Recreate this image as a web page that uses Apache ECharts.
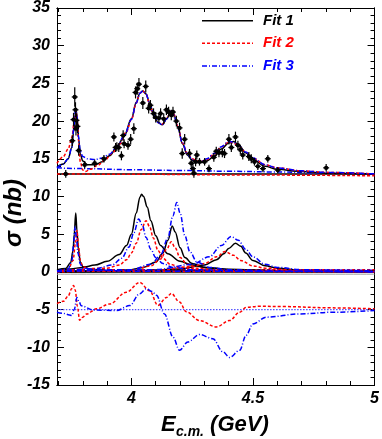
<!DOCTYPE html>
<html><head><meta charset="utf-8">
<script src="https://cdn.jsdelivr.net/npm/echarts@6/dist/echarts.min.js"></script>
<style>html,body{margin:0;padding:0;background:#fff}#c{width:382px;height:439px}</style>
</head><body><div id="c"></div>
<script>
// ---- axis ticks ----
const xMajorTicks = [4, 4.5, 5];
const xMinorTicks = [3.7,3.8,3.9,4.0,4.1,4.2,4.3,4.4,4.5,4.6,4.7,4.8,4.9,5.0];
const yMajorTicks = [-15,-10,-5,0,5,10,15,20,25,30,35];
const yMinorTicks = [];
for (let v = -15; v <= 35; v++) yMinorTicks.push(v);

// ---- data points: [E, sigma, error] ----
const dataPoints = [
[3.730,13.0,0.5],[3.757,17.4,0.7],[3.762,20.2,0.9],[3.767,23.2,1.3],[3.770,21.5,1.0],
[3.772,19.0,0.9],[3.774,20.1,0.9],[3.778,19.3,0.9],[3.783,16.1,0.7],[3.808,14.2,0.5],
[3.849,14.4,0.5],[3.887,15.0,0.5],[3.928,17.9,0.6],[3.935,16.5,0.6],[3.940,16.6,0.6],
[3.948,16.5,0.6],[3.959,15.4,0.6],[3.966,18.1,0.7],[3.970,17.0,0.6],[3.986,16.8,0.6],
[3.997,17.6,0.7],[4.010,19.0,0.7],[4.017,23.8,0.8],[4.024,24.3,0.8],[4.031,24.9,0.8],
[4.047,22.4,0.8],[4.059,24.6,0.8],[4.071,21.7,0.7],[4.078,22.1,0.7],[4.091,21.0,0.7],
[4.100,20.5,0.7],[4.113,20.4,0.7],[4.120,21.0,0.7],[4.133,20.3,0.7],[4.144,21.5,0.7],
[4.153,21.2,0.7],[4.164,20.8,0.7],[4.171,21.2,0.7],[4.185,20.0,0.7],[4.198,19.1,0.7],
[4.209,15.7,0.7],[4.219,17.6,0.7],[4.239,15.7,0.6],[4.246,14.4,0.6],[4.253,13.7,0.6],
[4.257,13.1,0.6],[4.264,14.6,0.6],[4.269,15.5,0.6],[4.280,14.6,0.5],[4.301,14.6,0.5],
[4.319,13.7,0.5],[4.339,15.2,0.6],[4.349,16.0,0.6],[4.360,15.8,0.6],[4.374,15.8,0.6],
[4.383,15.7,0.6],[4.401,17.6,0.7],[4.411,16.5,0.6],[4.428,17.9,0.7],[4.438,16.8,0.6],
[4.448,16.2,0.6],[4.458,15.5,0.6],[4.483,15.3,0.6],[4.493,15.0,0.6],[4.506,14.6,0.5],
[4.520,14.0,0.5],[4.541,13.7,0.5],[4.561,15.0,0.5],[4.602,13.5,0.4],[4.801,13.8,0.5]
];

// ---- total fits (top panel) ----
const fit1Total = [[3.694,13.9],[3.72,14.3],[3.74,15.0],[3.755,16.5],[3.762,18.5],[3.768,20.6],[3.773,21.4],[3.778,20.1],[3.783,17.6],[3.79,15.6],[3.80,14.7],[3.82,14.2],[3.85,14.2],[3.88,14.6],[3.91,15.4],[3.94,16.5],[3.97,18.0],[4.00,20.3],[4.02,22.5],[4.035,23.7],[4.047,24.0],[4.06,23.6],[4.075,22.4],[4.09,21.0],[4.11,19.8],[4.127,19.5],[4.145,20.3],[4.163,21.3],[4.175,20.8],[4.19,19.3],[4.21,17.0],[4.23,15.5],[4.25,14.8],[4.27,14.5],[4.29,14.5],[4.31,14.7],[4.34,15.3],[4.37,16.3],[4.40,17.1],[4.42,17.3],[4.44,16.9],[4.47,15.8],[4.50,14.9],[4.55,14.0],[4.60,13.6],[4.70,13.3],[4.80,13.1],[5.00,13.0]];
const fit2Total = [[3.694,14.4],[3.72,15.3],[3.74,16.3],[3.755,17.8],[3.765,20.0],[3.772,21.3],[3.777,20.5],[3.782,17.5],[3.79,14.6],[3.80,13.5],[3.81,13.3],[3.83,13.6],[3.86,14.1],[3.89,14.8],[3.92,15.7],[3.95,16.9],[3.98,18.6],[4.00,20.2],[4.02,22.4],[4.035,23.7],[4.047,24.0],[4.06,23.6],[4.075,22.3],[4.09,20.9],[4.11,19.8],[4.127,19.6],[4.145,20.4],[4.163,21.3],[4.175,20.9],[4.19,19.4],[4.21,17.1],[4.23,15.7],[4.25,15.0],[4.27,14.7],[4.29,14.7],[4.31,14.9],[4.34,15.6],[4.37,16.6],[4.40,17.2],[4.42,17.1],[4.44,16.7],[4.47,15.9],[4.50,15.1],[4.55,14.2],[4.60,13.8],[4.70,13.4],[4.80,13.2],[5.00,13.0]];
const fit3Total = [[3.694,13.8],[3.72,14.3],[3.74,15.0],[3.755,16.5],[3.763,19.0],[3.770,21.5],[3.776,20.6],[3.782,18.0],[3.79,16.0],[3.80,15.3],[3.82,15.0],[3.85,14.9],[3.88,15.1],[3.91,15.6],[3.94,16.6],[3.97,18.0],[4.00,20.2],[4.02,22.4],[4.035,23.7],[4.047,24.0],[4.06,23.6],[4.075,22.4],[4.09,21.0],[4.11,19.8],[4.127,19.5],[4.145,20.3],[4.163,21.3],[4.175,20.8],[4.19,19.3],[4.21,17.1],[4.23,15.6],[4.25,14.9],[4.27,14.6],[4.29,14.7],[4.31,15.0],[4.34,15.7],[4.37,16.6],[4.40,17.3],[4.42,17.2],[4.44,16.8],[4.47,15.9],[4.50,15.1],[4.55,14.2],[4.60,13.8],[4.70,13.4],[4.80,13.2],[5.00,13.0]];

// ---- backgrounds (top panel) ----
const fit1Bkg = [[3.694,13.0],[5.0,13.0]];
const fit2Bkg = [[3.694,13.0],[4.0,12.95],[4.5,12.85],[5.0,12.75]];
const fit3Bkg = [[3.694,13.8],[3.8,13.7],[4.0,13.55],[4.2,13.45],[4.4,13.35],[4.6,13.25],[4.8,13.1],[5.0,13.0]];

// ---- resonance components (middle panel) ----
const fit1Psi3770 = [[3.694,0.3],[3.73,0.45],[3.75,1.2],[3.76,2.8],[3.765,5.0],[3.771,7.8],[3.776,5.5],[3.782,3.0],[3.79,1.3],[3.80,0.7],[3.83,0.35],[3.9,0.2],[4.0,0.1],[5.0,0.05]];
const fit1Psi4040 = [[3.694,0.25],[3.75,0.4],[3.80,0.6],[3.85,0.9],[3.90,1.4],[3.95,2.3],[3.98,3.5],[4.00,5.0],[4.02,7.8],[4.035,9.9],[4.042,10.3],[4.05,10.0],[4.065,8.6],[4.08,6.8],[4.10,4.8],[4.12,3.5],[4.15,2.4],[4.20,1.4],[4.25,0.9],[4.30,0.6],[4.40,0.35],[4.60,0.15],[5.00,0.05]];
const fit1Psi4160 = [[3.694,0.05],[3.9,0.1],[4.0,0.3],[4.05,0.6],[4.10,1.3],[4.13,2.5],[4.15,4.2],[4.168,6.1],[4.18,5.3],[4.20,3.2],[4.22,1.9],[4.25,1.1],[4.30,0.6],[4.40,0.3],[4.6,0.1],[5.0,0.03]];
const fit1Psi4415 = [[3.694,0.0],[4.0,0.1],[4.2,0.4],[4.30,0.9],[4.35,1.6],[4.38,2.4],[4.40,3.1],[4.428,3.8],[4.45,3.4],[4.47,2.5],[4.50,1.5],[4.55,0.8],[4.60,0.5],[4.70,0.2],[5.0,0.05]];

const fit2Psi3770 = [[3.694,0.05],[3.74,0.3],[3.76,1.5],[3.77,3.8],[3.776,5.5],[3.782,3.5],[3.79,1.5],[3.80,0.7],[3.83,0.3],[3.9,0.1],[4.0,0.05],[5.0,0.02]];
const fit2Psi4040 = [[3.694,0.1],[3.9,0.5],[3.95,0.9],[3.98,1.6],[4.00,2.5],[4.02,3.8],[4.04,5.6],[4.06,6.8],[4.075,6.0],[4.09,4.5],[4.11,2.8],[4.13,1.8],[4.16,1.0],[4.20,0.6],[4.30,0.25],[4.5,0.1],[5.0,0.03]];
const fit2Psi4160 = [[3.694,0.05],[4.0,0.2],[4.08,0.8],[4.12,1.7],[4.145,3.0],[4.164,4.0],[4.18,3.2],[4.20,1.9],[4.23,1.0],[4.27,0.5],[4.35,0.2],[5.0,0.02]];
const fit2Psi4415 = [[3.694,0.0],[4.1,0.2],[4.25,0.7],[4.30,1.1],[4.35,2.0],[4.385,2.7],[4.42,2.2],[4.45,1.5],[4.50,0.8],[4.55,0.5],[4.65,0.25],[5.0,0.05]];

const fit3Psi3770 = [[3.694,0.1],[3.74,0.4],[3.755,1.5],[3.762,3.5],[3.768,6.0],[3.774,4.5],[3.78,2.5],[3.79,1.0],[3.80,0.5],[3.85,0.2],[4.0,0.1],[5.0,0.02]];
const fit3Psi4040 = [[3.694,0.1],[3.85,0.4],[3.92,0.9],[3.96,1.8],[3.99,3.3],[4.01,5.2],[4.03,7.0],[4.045,6.2],[4.06,4.6],[4.08,3.0],[4.10,1.9],[4.13,1.1],[4.17,0.6],[4.25,0.3],[4.5,0.1],[5.0,0.03]];
const fit3Psi4160 = [[3.694,0.05],[4.0,0.3],[4.08,1.0],[4.12,2.2],[4.15,4.5],[4.17,7.4],[4.187,9.2],[4.20,7.8],[4.22,4.8],[4.24,2.7],[4.27,1.3],[4.32,0.6],[4.40,0.3],[4.6,0.1],[5.0,0.03]];
const fit3Psi4415 = [[3.694,0.05],[4.1,0.3],[4.25,1.0],[4.32,2.0],[4.37,3.5],[4.41,4.7],[4.44,4.2],[4.47,3.0],[4.50,2.0],[4.55,1.0],[4.60,0.6],[4.70,0.3],[5.0,0.1]];

const fit1NonRes = [[3.694,0.05],[5.0,0.05]];
const fit2NonRes = [[3.694,0.25],[5.0,0.25]];
const fit3NonRes = [[3.694,0.2],[5.0,0.2]];
const zeroRef = [[3.694,-0.3],[5.0,-0.3]];

// ---- interference terms (bottom panel, offset -5) ----
const fit2Interf = [[3.694,-4.2],[3.72,-3.9],[3.74,-3.2],[3.755,-2.2],[3.762,-1.8],[3.769,-2.4],[3.778,-4.6],[3.787,-6.4],[3.80,-6.0],[3.815,-5.6],[3.856,-4.9],[3.911,-4.25],[3.979,-2.7],[4.034,-1.4],[4.075,-2.5],[4.109,-4.45],[4.144,-3.4],[4.164,-2.85],[4.198,-4.0],[4.226,-5.3],[4.28,-6.45],[4.349,-7.3],[4.404,-6.45],[4.445,-5.35],[4.472,-4.7],[4.527,-4.56],[4.623,-4.6],[4.828,-4.77],[5.0,-4.9]];
const fit3Interf = [[3.694,-5.35],[3.72,-5.5],[3.745,-5.7],[3.755,-5.8],[3.765,-5.0],[3.776,-3.4],[3.785,-4.0],[3.794,-4.5],[3.842,-5.05],[3.938,-5.13],[3.993,-4.47],[4.034,-2.9],[4.061,-2.24],[4.085,-2.6],[4.103,-3.1],[4.136,-5.57],[4.171,-8.64],[4.198,-10.4],[4.232,-9.3],[4.28,-8.3],[4.335,-8.85],[4.376,-10.6],[4.404,-11.35],[4.445,-10.4],[4.472,-8.4],[4.50,-6.9],[4.555,-6.0],[4.692,-5.57],[4.828,-5.35],[5.0,-5.13]];
const interfRef = [[3.694,-5.0],[5.0,-5.0]];

const legendNames = ['Fit 1','Fit 2','Fit 3'];

// ---------------- chart ----------------
const FONT = '"Liberation Sans", Arial, sans-serif';
const RED = '#ff0000', BLUE = '#0000ff', BLACK = '#000000';
const XMIN = 3.694, XMAX = 5.0, YMIN = -15, YMAX = 35;
const dashRed = [3, 2];
const dashBlue = [5, 2, 1, 2];

function xAx(pos, ticks, len, labels) {
  return {
    type: 'value', min: XMIN, max: XMAX, position: pos,
    axisLine: { show: true, onZero: false, lineStyle: { color: '#000', width: 1 } },
    axisTick: { show: true, inside: true, length: len, customValues: ticks, lineStyle: { color: '#000', width: 1 } },
    axisLabel: labels ? { show: true, customValues: ticks, margin: 6, color: '#000', fontFamily: FONT,
      fontWeight: 'bold', fontStyle: 'italic', fontSize: 16 } : { show: false },
    splitLine: { show: false }
  };
}
function yAx(pos, ticks, len, labels) {
  return {
    type: 'value', min: YMIN, max: YMAX, position: pos,
    axisLine: { show: true, onZero: false, lineStyle: { color: '#000', width: 1 } },
    axisTick: { show: true, inside: true, length: len, customValues: ticks, lineStyle: { color: '#000', width: 1 } },
    axisLabel: labels ? { show: true, customValues: ticks, margin: 7, color: '#000', fontFamily: FONT,
      fontWeight: 'bold', fontStyle: 'italic', fontSize: 16 } : { show: false },
    splitLine: { show: false }
  };
}

function lineSeries(data, color, type, width, z) {
  return {
    type: 'line', data: data, xAxisIndex: 0, yAxisIndex: 0,
    showSymbol: false, symbol: 'none', smooth: 0.35, smoothMonotone: 'x',
    lineStyle: { color: color, width: width || 1.5, type: type || 'solid' },
    z: z || 2, silent: true, animation: false, clip: true
  };
}

const series = [
  lineSeries(zeroRef, '#9a9a9a', 'solid', 1),
  lineSeries(fit1NonRes, BLACK, 'solid', 2.5),
  lineSeries(fit2NonRes, RED, dashRed, 2),
  lineSeries(fit3NonRes, BLUE, dashBlue, 2),
  lineSeries(fit1Bkg, BLACK, 'solid', 1.5),
  lineSeries(fit2Bkg, RED, dashRed, 1.5),
  lineSeries(fit3Bkg, BLUE, dashBlue, 1.5),
  lineSeries(fit1Psi3770, BLACK, 'solid', 1.5),
  lineSeries(fit1Psi4040, BLACK, 'solid', 1.5),
  lineSeries(fit1Psi4160, BLACK, 'solid', 1.5),
  lineSeries(fit1Psi4415, BLACK, 'solid', 1.5),
  lineSeries(fit2Psi3770, RED, dashRed, 1.5),
  lineSeries(fit2Psi4040, RED, dashRed, 1.5),
  lineSeries(fit2Psi4160, RED, dashRed, 1.5),
  lineSeries(fit2Psi4415, RED, dashRed, 1.5),
  lineSeries(fit3Psi3770, BLUE, dashBlue, 1.5),
  lineSeries(fit3Psi4040, BLUE, dashBlue, 1.5),
  lineSeries(fit3Psi4160, BLUE, dashBlue, 1.5),
  lineSeries(fit3Psi4415, BLUE, dashBlue, 1.5),
  lineSeries(interfRef, '#5050ff', [1.5, 1.5], 1.2),
  lineSeries(fit2Interf, RED, dashRed, 1.5),
  lineSeries(fit3Interf, BLUE, dashBlue, 1.5),
  lineSeries(fit1Total, BLACK, 'solid', 1.5, 3),
  lineSeries(fit2Total, RED, dashRed, 1.5, 3),
  lineSeries(fit3Total, BLUE, dashBlue, 1.5, 3),
  {
    type: 'custom', data: dataPoints, xAxisIndex: 0, yAxisIndex: 0, z: 5, silent: true, animation: false,
    encode: { x: 0, y: 1 },
    renderItem: function (params, api) {
      const x = api.value(0), y = api.value(1), e = api.value(2);
      const c = api.coord([x, y]);
      const t = api.coord([x, y + e]);
      const b = api.coord([x, y - e]);
      return { type: 'group', children: [
        { type: 'line', shape: { x1: c[0], y1: t[1], x2: c[0], y2: b[1] }, style: { stroke: '#000', lineWidth: 1.2 } },
        { type: 'line', shape: { x1: c[0] - 3, y1: c[1], x2: c[0] + 3, y2: c[1] }, style: { stroke: '#000', lineWidth: 1.2 } },
        { type: 'circle', shape: { cx: c[0], cy: c[1], r: 2.2 }, style: { fill: '#000' } }
      ] };
    }
  }
];

const legendY = [20.7, 43.3, 66];
const legendColors = [BLACK, RED, BLUE];
const legendDash = [null, dashRed, dashBlue];
const graphics = [];
legendNames.forEach(function (n, i) {
  graphics.push({ type: 'line', shape: { x1: 202, y1: legendY[i], x2: 253, y2: legendY[i] },
    style: { stroke: legendColors[i], lineWidth: 1.5, lineDash: legendDash[i] }, z: 10 });
  graphics.push({ type: 'text', x: 263, y: legendY[i], style: { text: n, fill: legendColors[i],
    font: 'italic bold 15px ' + FONT, textAlign: 'left', textVerticalAlign: 'middle' }, z: 10 });
});
// axis titles
graphics.push({ type: 'text', x: 14, y: 213, rotation: Math.PI / 2,
  style: { text: 'σ (nb)', fill: '#000', font: 'italic bold 24px ' + FONT, textAlign: 'center', textVerticalAlign: 'middle' } });
graphics.push({ type: 'text', x: 161, y: 425,
  style: { text: 'E', fill: '#000', font: 'italic bold 22px ' + FONT, textAlign: 'left', textVerticalAlign: 'middle' } });
graphics.push({ type: 'text', x: 176, y: 432,
  style: { text: 'c.m.', fill: '#000', font: 'italic bold 14px ' + FONT, textAlign: 'left', textVerticalAlign: 'middle' } });
graphics.push({ type: 'text', x: 204, y: 425,
  style: { text: ' (GeV)', fill: '#000', font: 'italic bold 22px ' + FONT, textAlign: 'left', textVerticalAlign: 'middle' } });

const chart = echarts.init(document.getElementById('c'), null, { renderer: 'canvas' });
chart.setOption({
  animation: false,
  backgroundColor: '#ffffff',
  grid: { left: 57, right: 7, top: 5, bottom: 54, containLabel: false },
  xAxis: [
    xAx('bottom', xMajorTicks, 7, true),
    xAx('bottom', xMinorTicks, 4, false),
    xAx('top', xMajorTicks, 7, false),
    xAx('top', xMinorTicks, 4, false)
  ],
  yAxis: [
    yAx('left', yMajorTicks, 7, true),
    yAx('left', yMinorTicks, 4, false),
    yAx('right', yMajorTicks, 7, false),
    yAx('right', yMinorTicks, 4, false)
  ],
  series: series,
  graphic: graphics
});
</script></body></html>
